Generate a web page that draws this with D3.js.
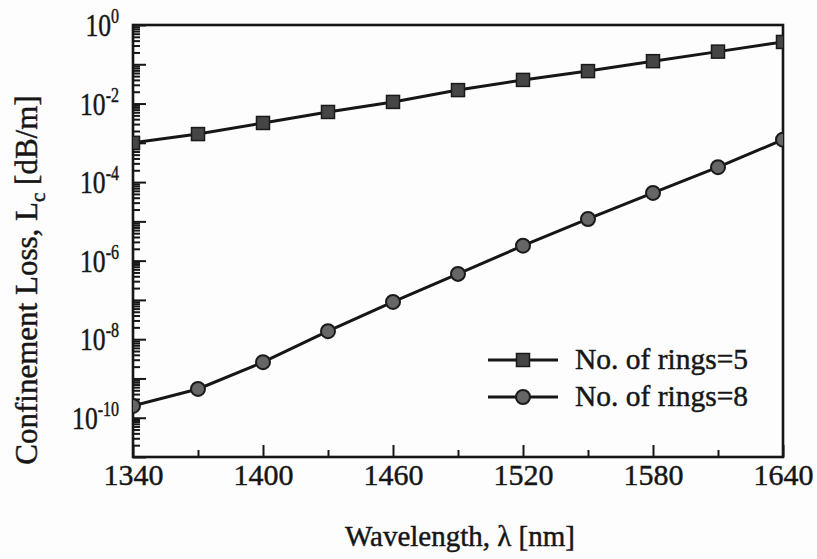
<!DOCTYPE html>
<html>
<head>
<meta charset="utf-8">
<script src="https://cdn.jsdelivr.net/npm/d3@7"></script>
<style>
  html, body { margin: 0; padding: 0; background: #fdfdfd; }
  svg { display: block; }
  svg text { font-family: 'Liberation Serif', 'Times New Roman', Times, serif; fill: #161616; stroke: #161616; stroke-width: 0.45px; }
</style>
</head>
<body>
<svg id="chart" width="817" height="559"></svg>
<script>
// Wavelength samples (nm)
const wavelengths = [1340, 1370, 1400, 1430, 1460, 1490, 1520, 1550, 1580, 1610, 1640];
// Confinement loss (dB/m) for 5 air-hole rings
const lossRings5 = [1.0e-3, 1.67e-3, 3.2e-3, 6.1e-3, 1.1e-2, 2.2e-2, 4.0e-2, 6.7e-2, 0.12, 0.21, 0.37];
// Confinement loss (dB/m) for 8 air-hole rings
const lossRings8 = [2.0e-10, 5.4e-10, 2.6e-9, 1.6e-8, 8.9e-8, 4.6e-7, 2.4e-6, 1.15e-5, 5.3e-5, 2.4e-4, 1.2e-3];
// Axis ticks
const xMajorTicks = [1340, 1400, 1460, 1520, 1580, 1640];
const xMinorTicks = [1370, 1430, 1490, 1550, 1610];
const yLabelExponents = [0, -2, -4, -6, -8, -10];
const seriesNames = ["No. of rings=5", "No. of rings=8"];

const serif = "'Liberation Serif', 'Times New Roman', Times, serif";
const svg = d3.select("#chart");
const margin = { left: 133, right: 34, top: 25, bottom: 102 };
const W = 817, H = 559;
const x0 = margin.left, x1 = W - margin.right, y0 = margin.top, y1 = H - margin.bottom;

const x = d3.scaleLinear().domain([1340, 1640]).range([x0, x1]);
const y = d3.scaleLog().domain([1e-11, 1]).range([y1, y0]);

// decade and sub-decade tick values
const decades = d3.range(-11, 1).map(e => Math.pow(10, e));
const subDecades = [];
decades.slice(0, -1).forEach(d => { for (let k = 2; k <= 9; k++) subDecades.push(d * k); });

const ink = "#161616";

// clip markers to the plotting frame
svg.append("defs").append("clipPath").attr("id", "plotClip")
  .append("rect").attr("x", x0).attr("y", y0).attr("width", x1 - x0).attr("height", y1 - y0);

// ---- Axes ----
const gxMinor = svg.append("g").attr("transform", `translate(0,${y1})`)
  .call(d3.axisBottom(x).tickValues(xMinorTicks).tickSizeInner(-7).tickSizeOuter(0).tickFormat(""));
const gxMajor = svg.append("g").attr("transform", `translate(0,${y1})`)
  .call(d3.axisBottom(x).tickValues(xMajorTicks).tickSizeInner(-12).tickSizeOuter(0)
    .tickPadding(7).tickFormat(d3.format("d")));
gxMajor.attr("font-family", serif).attr("font-size", 30);
gxMajor.selectAll("text").attr("fill", ink);

const gyMinor = svg.append("g").attr("transform", `translate(${x0},0)`)
  .call(d3.axisLeft(y).tickValues(subDecades).tickSizeInner(-7).tickSizeOuter(0).tickFormat(""));
const gyMajor = svg.append("g").attr("transform", `translate(${x0},0)`)
  .call(d3.axisLeft(y).tickValues(decades).tickSizeInner(-13).tickSizeOuter(0).tickFormat(""));

[gxMinor, gxMajor, gyMinor, gyMajor].forEach(g => {
  g.select(".domain").remove();
  g.selectAll(".tick line").attr("stroke", ink).attr("stroke-width", 2);
});

// frame
svg.append("rect").attr("x", x0).attr("y", y0).attr("width", x1 - x0).attr("height", y1 - y0)
  .attr("fill", "none").attr("stroke", ink).attr("stroke-width", 2.6);

// y tick labels as powers of ten
yLabelExponents.forEach(e => {
  const t = svg.append("text")
    .attr("transform", `translate(119,${y(Math.pow(10, e)) + 11}) scale(0.8,1)`)
    .attr("text-anchor", "end")
    .style("font-size", "32px");
  t.append("tspan").text("10");
  t.append("tspan").attr("dy", -13).style("font-size", "20px").text(String(e));
});

// axis titles
svg.append("text").attr("x", (x0 + x1) / 2 + 2).attr("y", 546)
  .attr("text-anchor", "middle").style("font-size", "29px")
  .text("Wavelength, \u03bb [nm]");

const yt = svg.append("text")
  .attr("transform", "translate(37,280) rotate(-90)")
  .attr("text-anchor", "middle").style("font-size", "31px");
yt.append("tspan").text("Confinement Loss, L");
yt.append("tspan").attr("dy", 8).style("font-size", "21px").text("c");
yt.append("tspan").attr("dy", -8).text(" [dB/m]");

// ---- Series ----
const line = d3.line().x(d => x(d[0])).y(d => y(d[1]));
const s5 = wavelengths.map((w, i) => [w, lossRings5[i]]);
const s8 = wavelengths.map((w, i) => [w, lossRings8[i]]);

const plot = svg.append("g").attr("clip-path", "url(#plotClip)");
[s5, s8].forEach(s => {
  plot.append("path").datum(s).attr("d", line)
    .attr("fill", "none").attr("stroke", ink).attr("stroke-width", 3);
});

const sq = 13, cr = 7;
plot.selectAll("rect.m5").data(s5).join("rect").attr("class", "m5")
  .attr("x", d => x(d[0]) - sq / 2).attr("y", d => y(d[1]) - sq / 2)
  .attr("width", sq).attr("height", sq)
  .attr("fill", "#454545").attr("stroke", "#1a1a1a").attr("stroke-width", 1.5);
plot.selectAll("circle.m8").data(s8).join("circle").attr("class", "m8")
  .attr("cx", d => x(d[0])).attr("cy", d => y(d[1])).attr("r", cr)
  .attr("fill", "#666").attr("stroke", "#1a1a1a").attr("stroke-width", 2);

// ---- Legend ----
const legend = svg.append("g");
const legendRows = [360, 397];
legendRows.forEach((ly, i) => {
  legend.append("line").attr("x1", 488).attr("x2", 558).attr("y1", ly).attr("y2", ly)
    .attr("stroke", ink).attr("stroke-width", 3);
  if (i === 0) {
    legend.append("rect").attr("x", 523 - sq / 2).attr("y", ly - sq / 2).attr("width", sq).attr("height", sq)
      .attr("fill", "#454545").attr("stroke", "#1a1a1a").attr("stroke-width", 1.5);
  } else {
    legend.append("circle").attr("cx", 523).attr("cy", ly).attr("r", cr)
      .attr("fill", "#666").attr("stroke", "#1a1a1a").attr("stroke-width", 2);
  }
  legend.append("text").attr("x", 575).attr("y", ly + 9)
    .style("font-size", "29px")
    .attr("textLength", 173).attr("lengthAdjust", "spacingAndGlyphs")
    .text(seriesNames[i]);
});
</script>
</body>
</html>
